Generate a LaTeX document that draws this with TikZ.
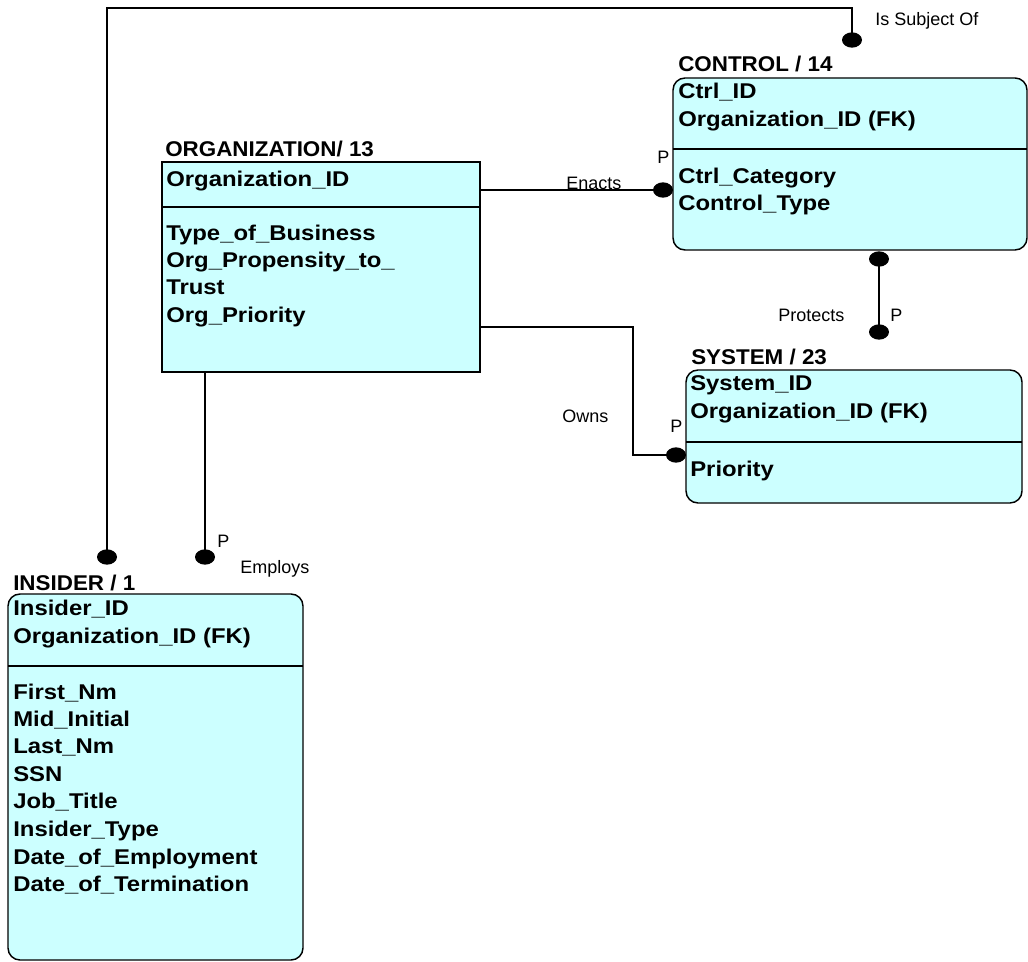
\documentclass[tikz,border=0pt]{standalone}
\usepackage{fontspec}
\setmainfont{Liberation Sans}
\newfontfamily\erfont[FakeStretch=1.12]{Liberation Sans}
\newfontfamily\ertitlefont[FakeStretch=1.05]{Liberation Sans}
\usetikzlibrary{shapes.geometric}
\definecolor{ercyan}{RGB}{204,255,255}
\tikzset{
	entity/.style={draw=black, line width=1.1pt, fill=ercyan, anchor=north west, inner sep=0pt, outer sep=0pt},
	soft/.style={rounded corners=9pt},
	etitle/.style={anchor=base west, inner sep=0pt, font=\ertitlefont\fontsize{16}{20}\selectfont\bfseries},
	attr/.style={anchor=base west, inner sep=0pt, font=\erfont\fontsize{16}{20}\selectfont\bfseries},
	rel/.style={draw=black, line width=0.9pt},
	relname/.style={anchor=base west, inner sep=0pt, font=\fontsize{13.5}{16}\selectfont},
	cardot/.style={ellipse, fill=black, minimum width=15pt, minimum height=11.5pt, inner sep=0pt}
}
\begin{document}
\begin{tikzpicture}[x=0.75pt, y=-0.75pt]
\useasboundingbox (0,0) rectangle (1028,962);
% entity boxes
\node[entity, minimum width=238.5pt, minimum height=157.5pt] (org) at (162,162) {};
\node[entity, soft, minimum width=265.5pt, minimum height=129pt] (ctrl) at (673,78) {};
\node[entity, soft, minimum width=252pt, minimum height=99.75pt] (sys) at (686,370) {};
\node[entity, soft, minimum width=221.25pt, minimum height=274.5pt] (ins) at (8,594) {};
\draw[rel] (org.west |- 0,207) -- (org.east |- 0,207);
\draw[rel] (ctrl.west |- 0,149) -- (ctrl.east |- 0,149);
\draw[rel] (sys.west |- 0,442) -- (sys.east |- 0,442);
\draw[rel] (ins.west |- 0,666) -- (ins.east |- 0,666);
% titles and attributes
\path
	(165,157) node[etitle] (orgtitle) {ORGANIZATION/ 13}
	(166,187) node[attr] (orgpk) {Organization\_ID}
	(166,241) node[attr] (orga) {Type\_of\_Business}
	(166,268) node[attr] (orgb) {Org\_Propensity\_to\_}
	(166,295) node[attr] (orgc) {Trust}
	(166,323) node[attr] (orgd) {Org\_Priority};
\path
	(678,72) node[etitle] (ctrltitle) {CONTROL / 14}
	(678,99) node[attr] (ctrlpk) {Ctrl\_ID}
	(678,127) node[attr] (ctrlfk) {Organization\_ID (FK)}
	(678,184) node[attr] (ctrla) {Ctrl\_Category}
	(678,211) node[attr] (ctrlb) {Control\_Type};
\path
	(691,365) node[etitle] (systitle) {SYSTEM / 23}
	(690,391) node[attr] (syspk) {System\_ID}
	(690,419) node[attr] (sysfk) {Organization\_ID (FK)}
	(690,476) node[attr] (sysa) {Priority};
\path
	(13,590) node[etitle] (institle) {INSIDER / 1}
	(13,615) node[attr] (inspk) {Insider\_ID}
	(13,643) node[attr] (insfk) {Organization\_ID (FK)}
	(13,699) node[attr] (insa) {First\_Nm}
	(13,726) node[attr] (insb) {Mid\_Initial}
	(13,753) node[attr] (insc) {Last\_Nm}
	(13,781) node[attr] (insd) {SSN}
	(13,808) node[attr] (inse) {Job\_Title}
	(13,836) node[attr] (insf) {Insider\_Type}
	(13,864) node[attr] (insg) {Date\_of\_Employment}
	(13,891) node[attr] (insh) {Date\_of\_Termination};
% relationship ends
\node[cardot] (subjdot) at (852,40) {};
\node[cardot] (insdot) at (107,557) {};
\node[cardot] (enactdot) at (663,190) {};
\node[cardot] (ctrldot) at (879,259) {};
\node[cardot] (protdot) at (879,332) {};
\node[cardot] (owndot) at (676,455) {};
\node[cardot] (empdot) at (205,557) {};
\coordinate (subjtop) at (107,8);
\coordinate (ownbend) at (633,327);
% relationships
\draw[rel] (subjdot.center) |- (subjtop) -- (insdot.center);
\draw[rel] (org.east |- enactdot) -- (enactdot.center);
\draw[rel] (ctrldot.center) -- (protdot.center);
\draw[rel] (org.east |- ownbend) -- (ownbend) |- (owndot.center);
\draw[rel] (org.south -| empdot) -- (empdot.center);
\path
	(875,26) node[relname] (subjlbl) {Is Subject Of}
	(566,190) node[relname] (enactlbl) {Enacts}
	(657,164) node[relname] (enactp) {P}
	(778,322) node[relname] (protlbl) {Protects}
	(890,322) node[relname] (protp) {P}
	(562,422) node[relname] (ownlbl) {Owns}
	(670,432) node[relname] (ownp) {P}
	(217,547) node[relname] (empp) {P}
	(240,573) node[relname] (emplbl) {Employs};
\end{tikzpicture}
\end{document}
